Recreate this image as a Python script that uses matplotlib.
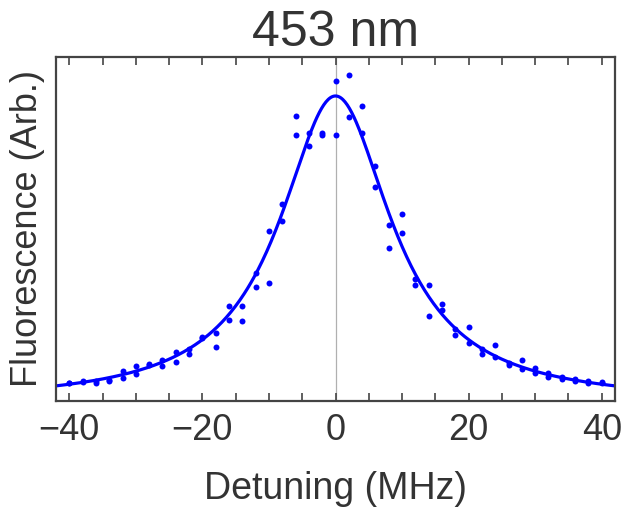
import matplotlib.pyplot as plt
import numpy as np

plt.rcParams['font.family'] = ['Liberation Sans', 'DejaVu Sans']

# detuning (MHz), two sweeps per point
detuning = np.arange(-40, 41, 2)
sweep1 = [18, 20, 20, 21, 30, 35, 37, 41, 49, 52, 64, 68, 95, 95, 128, 170, 197, 285, 268, 268, 320,
          326, 295, 235, 176, 187, 122, 116, 97, 72, 74, 52, 56, 38, 41, 33, 28, 24, 22, 20, 19]
sweep2 = [18, 19, 18, 20, 23, 27, 36, 35, 39, 47, 63, 54, 81, 80, 114, 118, 180, 266, 255, 266, 266,
          284, 268, 214, 153, 168, 116, 85, 91, 66, 58, 47, 44, 36, 32, 28, 24, 22, 20, 18, 18]

# lorentzian fit parameters
amp = 307
x0 = 0
hwhm = 10.2
offset = -2

fig = plt.figure(figsize=(6.25, 5.11), dpi=100)
ax = fig.add_axes([0.0896, 0.2153, 0.8944, 0.6732])

ax.axvline(0, color='#b0b0b0', lw=0.9, zorder=1)

xf = np.linspace(-42, 42, 500)
yf = offset + amp / (1 + ((xf - x0) / hwhm) ** 2)
ax.plot(xf, yf, color='#0000ff', lw=2.3, zorder=2)

ax.plot(detuning, sweep1, 'o', color='#0000ff', ms=4.3, mew=0, zorder=3)
ax.plot(detuning, sweep2, 'o', color='#0000ff', ms=4.3, mew=0, zorder=3)

ax.set_xlim(-42, 42)
ax.set_ylim(0, 344)

ax.set_xticks([-40, -20, 0, 20, 40])
ax.set_xticklabels(['\u221240', '\u221220', '0', '20', '40'])
ax.set_xticks(np.arange(-40, 41, 5), minor=True)
ax.set_yticks([])
ax.tick_params(axis='x', which='both', direction='in', top=True, bottom=True,
               length=6, width=1.2, color='#444444', labelsize=26, labelcolor='#333333', pad=9)

for s in ax.spines.values():
    s.set_color('#444444')
    s.set_linewidth(1.6)

ax.set_xlabel('Detuning (MHz)', fontsize=27, color='#333333', labelpad=16)
ax.set_ylabel('Fluorescence (Arb.)', fontsize=26, color='#333333', labelpad=8)
ax.set_title('453 nm', fontsize=36, color='#333333', pad=8)

plt.savefig('out.png', dpi=100)
